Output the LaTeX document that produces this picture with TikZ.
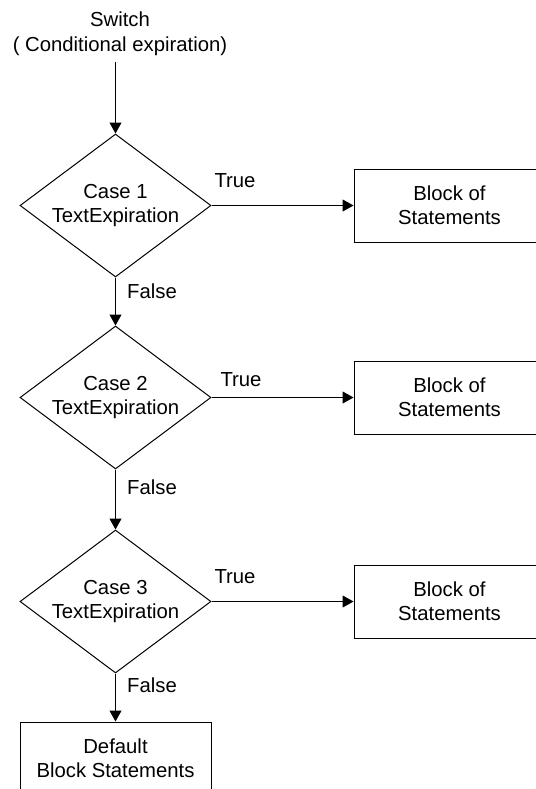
\documentclass[tikz,border=0pt]{standalone}
\usepackage{fontspec}
\setmainfont{Liberation Sans}
\usetikzlibrary{shapes.geometric,arrows.meta}
\begin{document}
\begin{tikzpicture}[x=0.5pt,y=-0.5pt,
  line width=0.5pt,
  every node/.style={font=\fontsize{10.15}{12.2}\selectfont, align=center, inner sep=0pt},
  decision/.style={draw, diamond, minimum width=95.5pt, minimum height=71.5pt},
  block/.style={draw, rectangle, minimum width=95.5pt, minimum height=36.5pt},
  arr/.style={-{Triangle[length=5.5pt,width=6pt]}}]
\useasboundingbox (0,0) rectangle (536,789);
\clip (0,0) rectangle (536,789);

% switch header
\node[anchor=south] (switch) at (120,56) {Switch\\( Conditional expiration)};
\coordinate (start) at (115.5,62);

% decisions
\node[decision, label={center:Case 1\\TextExpiration}] (d1) at (115.5,205.5) {};
\node[decision, label={center:Case 2\\TextExpiration}] (d2) at (115.5,397.5) {};
\node[decision, label={center:Case 3\\TextExpiration}] (d3) at (115.5,601.5) {};

% statement blocks
\node[block] (b1) at (449.5,205.5) {Block of\\Statements};
\node[block] (b2) at (449.5,397.5) {Block of\\Statements};
\node[block] (b3) at (449.5,601.5) {Block of\\Statements};
\node[block] (def) at (115.5,758.5) {Default\\Block Statements};

% connectors
\draw[arr] (start) -- (d1.north);
\draw[arr] (d1.east) -- (b1.west);
\draw[arr] (d2.east) -- (b2.west);
\draw[arr] (d3.east) -- (b3.west);
\draw[arr] (d1.south) -- (d2.north);
\draw[arr] (d2.south) -- (d3.north);
\draw[arr] (d3.south) -- (def.north);

% branch labels
\node (t1) at (235,181) {True};
\node (t2) at (241,380) {True};
\node (t3) at (235,577) {True};
\node (f1) at (152,291) {False};
\node (f2) at (152,487) {False};
\node (f3) at (152,685) {False};
\end{tikzpicture}
\end{document}
